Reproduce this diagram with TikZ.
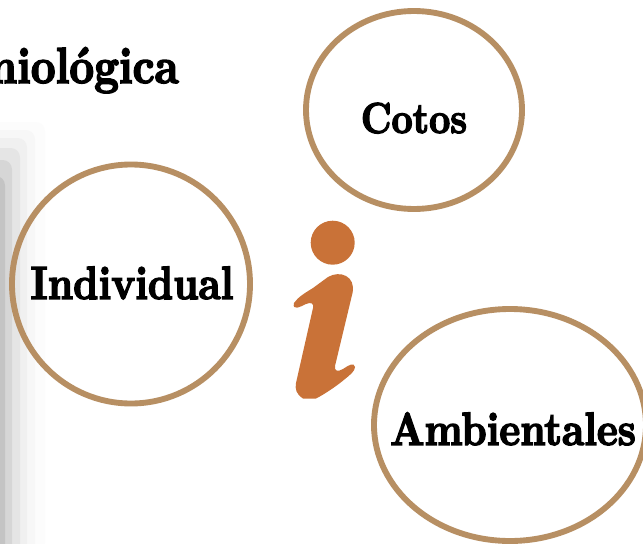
\documentclass[tikz,border=0pt]{standalone}
\usepackage{fontspec}
\usetikzlibrary{shapes.geometric}
\newfontfamily\bod[Extension=.otf,FakeStretch=0.85,FakeBold=3]{lmroman10-bold}
\definecolor{ringc}{HTML}{B78F63}
\definecolor{orangei}{HTML}{C97238}
\tikzset{
  ring/.style={draw=ringc,line width=4.4pt,ellipse,inner sep=0pt,outer sep=0pt},
  lbl/.style={font=\bod\fontsize{35}{35}\selectfont,text=black,inner sep=0pt},
  shade step/.style={rounded corners=7pt},
}
\begin{document}
\begin{tikzpicture}[x=0.75pt,y=-0.75pt]
\useasboundingbox (0,0) rectangle (643,543);
\clip (0,0) rectangle (643,543);
\fill[white] (0,0) rectangle (643,543);
% soft shadow at left
\fill[black!1,shade step] (-20,122) rectangle (45,563);
\fill[black!3,shade step] (-20,130) rectangle (35,563);
\fill[black!6,shade step] (-20,138) rectangle (27,563);
\fill[black!10,shade step] (-20,148) rectangle (20,563);
\fill[black!16,shade step] (-20,160) rectangle (12,563);
\fill[black!23,shade step] (-20,176) rectangle (5,563);
% rings
\node[ring,minimum width=178.5pt,minimum height=179.25pt] (ind) at (131,284) {};
\node[ring,minimum width=162pt,minimum height=148.5pt] (cot) at (414,110) {};
\node[ring,minimum width=204pt,minimum height=174pt] (amb) at (510,425) {};
% labels
\node[lbl,anchor=base] (tind) at (132,299) {Individual};
\node[lbl,font=\bod\fontsize{32.5}{33}\selectfont,anchor=base] (tcot) at (414,133) {Cotos};
\node[lbl,anchor=base] (tamb) at (513,445) {Ambientales};
\node[lbl,font=\bod\fontsize{38}{38}\selectfont,anchor=base east] (ttit) at (179,83) {niológica};
% i glyph
\fill[orangei] (332.7,242.7) circle[radius=22];
\fill[orangei] (294,303) .. controls (298,297) and (305,293) .. (313,288)
  -- (328,277)
  .. controls (340,270) and (356,276) .. (352.5,293)
  -- (335,366) .. controls (334,371) and (338,372) .. (343,369)
  .. controls (349,365) and (354,362) .. (355,367)
  .. controls (355,371) and (350,375) .. (345,379)
  .. controls (338,385) and (325,394) .. (316,398.5)
  -- (303,398.5) .. controls (296,394) and (295,389) .. (296,383)
  -- (313,308) .. controls (314,303) and (311,302) .. (306,304)
  .. controls (300,307) and (292,311) .. (294,303) -- cycle;
\end{tikzpicture}
\end{document}
